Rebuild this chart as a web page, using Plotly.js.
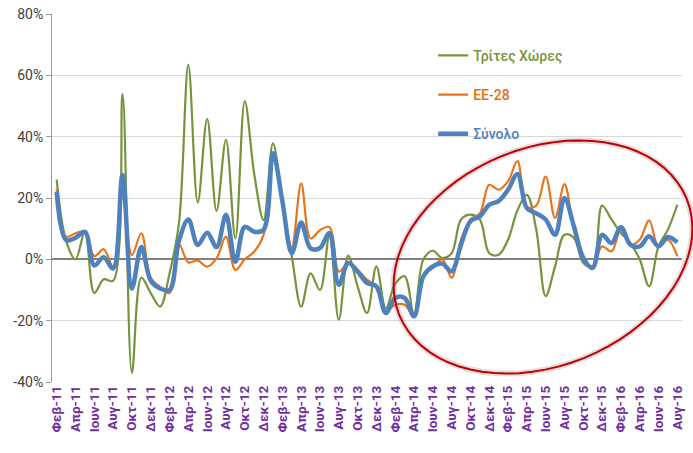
<!DOCTYPE html>
<html>
<head>
<meta charset="utf-8">
<script src="https://cdn.plot.ly/plotly-3.0.1.min.js"></script>
<style>
  body { margin: 0; background: #fff; }
  #graph { width: 693px; height: 453px; }
</style>
</head>
<body>
<div id="graph"></div>
<script>
// months Feb-11 .. Aug-16
var monthNames = ['Ιαν', 'Φεβ', 'Μαρ', 'Απρ', 'Μαϊ', 'Ιουν', 'Ιουλ', 'Αυγ', 'Σεπ', 'Οκτ', 'Νοε', 'Δεκ'];
var months = [];
for (var k = 1; k < 12 * 6 - 4; k++) {
  months.push(monthNames[k % 12] + '-' + (11 + Math.floor(k / 12)));
}

var tritesXores = [26, 6, 0, 9, -11, -6.5, -7, 54, -37, -6,
  -11, -15.4, -4.6, 11.7, 63.4, 18.5, 45.8, 15.8, 39, 6.8,
  51.6, 28, 12.8, 37.8, 18, 1, -15.4, -4.6, -10, 7.5,
  -19.7, 1.2, -8.8, -17.5, -2.3, -16, -8, -5.5, -18, 0,
  2.8, 0.4, 2, 13, 14.6, 13, 2, 1.5, 6.4, 16,
  21, 9.7, -12, -2.3, 8, 7, -1.2, -2.3, 17.5, 13,
  8.6, 5.3, 0, -8.8, 4.2, 9.7, 17.8];

var ee28 = [23, 7.4, 8.5, 9, 1, 3.3, -2.4, 20, 1.4, 8.5,
  -6, -9, -11, 5, -1, -0.4, -2.4, 0.3, 7.4, -3.5,
  0, 2.5, 8, 34.5, 19, 4, 24.8, 6.8, 9.5, 10.5,
  -4, -1.2, -3.4, -6.6, -8.8, -17, -14.8, -14.8, -18.6, -5.5,
  -2.8, 0, -6, 6.4, 13, 15, 24.3, 22.7, 25.4, 32,
  17, 17.5, 27, 13.5, 24.5, 9.7, 0, -2.3, 4.2, 2.6,
  9.7, 4.8, 6.4, 12.7, 4.2, 6.4, 1];

var synolo = [22, 6.3, 7, 9, -2, 0.7, -3, 27.5, -9.5, 4,
  -7, -9.5, -10, 6, 13, 4.7, 8.7, 4, 14.5, -0.8,
  10.6, 9, 9.6, 34.6, 19, 2, 12, 3.6, 3.7, 8.6,
  -8.3, -1.2, -4, -7.7, -8.8, -17.5, -12.6, -12.6, -18.6, -5.5,
  -2.3, -1.4, -3.9, 4.8, 12.4, 14, 17.8, 19, 22.7, 27.8,
  16.7, 15, 13, 8, 20, 10.8, 0.5, -2.8, 8, 5.3,
  10.5, 4.8, 4.2, 7.5, 4.2, 7.3, 5.5];

var tickLabels = months.filter(function (m, i) { return i % 2 === 0; });
var yTicks = [-40, -20, 0, 20, 40, 60, 80];
var yTickText = ['-40%', '-20%', '0%', '20%', '40%', '60%', '80%'];

var traces = [
  { x: months, y: tritesXores, type: 'scatter', mode: 'lines', legendgroup: 'a',
    name: '<span style="color:#77933c">Τρίτες Χώρες</span>',
    line: { color: '#77933c', width: 2.2, shape: 'spline', smoothing: 1 } },
  { x: months, y: ee28, type: 'scatter', mode: 'lines', legendgroup: 'b',
    name: '<span style="color:#e46c0a">ΕΕ-28</span>',
    line: { color: '#e8741c', width: 2.2, shape: 'spline', smoothing: 1 } },
  { x: months, y: synolo, type: 'scatter', mode: 'lines', legendgroup: 'c',
    name: '<span style="color:#4f81bd">Σύνολο</span>',
    line: { color: '#4f81bd', width: 4.5, shape: 'spline', smoothing: 1 } }
];

// red ellipse around 2014-2016, built in pixel space then mapped to paper
function ellipsePath(cx, cy, a, b, deg) {
  var th = deg * Math.PI / 180, p = '';
  for (var s = 0; s <= 72; s++) {
    var t = s / 72 * 2 * Math.PI;
    var px = cx + a * Math.cos(t) * Math.cos(th) - b * Math.sin(t) * Math.sin(th);
    var py = cy + a * Math.cos(t) * Math.sin(th) + b * Math.sin(t) * Math.cos(th);
    var xp = (px - 52) / 630, yp = (382 - py) / 368;
    p += (s === 0 ? 'M' : 'L') + xp.toFixed(4) + ',' + yp.toFixed(4);
  }
  return p + 'Z';
}

var layout = {
  width: 693, height: 453,
  margin: { l: 52, r: 11, t: 14, b: 71 },
  paper_bgcolor: '#fff', plot_bgcolor: '#fff',
  font: { family: 'Roboto, "Open Sans", sans-serif' },
  showlegend: true,
  legend: {
    x: 0.605, y: 0.93, xanchor: 'left', yanchor: 'top',
    tracegroupgap: 18, bgcolor: 'rgba(0,0,0,0)',
    font: { size: 14, weight: 500 }
  },
  xaxis: {
    type: 'category', range: [-0.5, 66.5],
    tickmode: 'array', tickvals: tickLabels, ticktext: tickLabels,
    tickangle: -90, showgrid: false, ticks: '',
    tickfont: { size: 13.5, color: '#7030a0', family: 'Roboto', weight: 'bold' },
    showline: false, zeroline: false
  },
  yaxis: {
    range: [-40, 80], tickmode: 'array', tickvals: yTicks, ticktext: yTickText,
    tickfont: { size: 14, color: '#404040' },
    gridcolor: '#d9d9d9', gridwidth: 1,
    zeroline: true, zerolinecolor: '#808080', zerolinewidth: 2,
    showline: true, linecolor: '#9a9a9a', linewidth: 1,
    ticks: 'outside', ticklen: 5, tickcolor: '#9a9a9a'
  },
  shapes: [
    { type: 'path', xref: 'paper', yref: 'paper', layer: 'above',
      path: ellipsePath(543, 257, 155, 109, -22),
      line: { color: 'rgba(150,110,110,0.25)', width: 6 } },
    { type: 'path', xref: 'paper', yref: 'paper', layer: 'above',
      path: ellipsePath(543, 257, 155, 109, -22),
      line: { color: '#c00000', width: 2 } }
  ]
};

Plotly.newPlot('graph', traces, layout, { displayModeBar: false, staticPlot: true });
</script>
</body>
</html>
